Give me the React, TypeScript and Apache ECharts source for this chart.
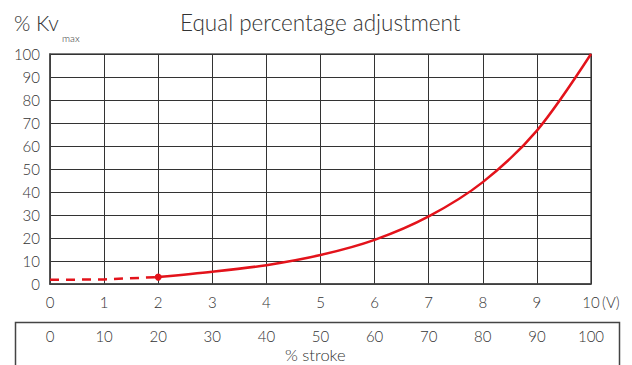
import React, { useEffect, useRef } from "react";
import * as echarts from "echarts";

const voltTicks = [0, 1, 2, 3, 4, 5, 6, 7, 8, 9, 10];
const strokeTicks = [0, 10, 20, 30, 40, 50, 60, 70, 80, 90, 100];
const dashedSeg: [number, number][] = [
  [0, 1.8],
  [1, 2.0],
  [2, 3.0],
];
const solidSeg: [number, number][] = [
  [2, 3.0],
  [3, 5.3],
  [4, 8.2],
  [5, 12.6],
  [6, 19.2],
  [7, 29.4],
  [8, 44.3],
  [9, 66.7],
  [10, 100],
];

const FONT = "Lato";
const TXT = "#333";

export default function App() {
  const ref = useRef<HTMLDivElement>(null);
  useEffect(() => {
    if (!ref.current) return;
    const chart = echarts.init(ref.current, undefined, { renderer: "svg" });
    chart.setOption({
      animation: false,
      backgroundColor: "#fff",
      textStyle: { fontFamily: FONT, color: TXT },
      grid: {
        left: 50,
        right: 41,
        top: 54,
        bottom: 81,
        show: true,
        borderColor: "#555",
        borderWidth: 1.5,
        containLabel: false,
      },
      xAxis: [
        {
          type: "value",
          min: 0,
          max: 10,
          interval: 1,
          position: "bottom",
          axisLine: { show: true, lineStyle: { color: "#444", width: 1.5 } },
          axisTick: { show: false },
          splitLine: { show: true, lineStyle: { color: "#333", width: 1 } },
          axisLabel: {
            color: TXT,
            fontSize: 15,
            fontFamily: FONT,
            fontWeight: 300,
            margin: 10,
            formatter: (v: number) => (voltTicks.includes(v) ? String(v) : ""),
          },
        },
        {
          type: "value",
          min: 0,
          max: 100,
          interval: 10,
          position: "bottom",
          offset: 36,
          axisLine: { show: false },
          axisTick: { show: false },
          splitLine: { show: false },
          axisLabel: {
            color: TXT,
            fontSize: 15,
            fontFamily: FONT,
            fontWeight: 300,
            margin: 8,
            formatter: (v: number) => (strokeTicks.includes(v) ? String(v) : ""),
          },
        },
      ],
      yAxis: {
        type: "value",
        min: 0,
        max: 100,
        interval: 10,
        axisLine: { show: true, lineStyle: { color: "#444", width: 1.5 } },
        axisTick: { show: false },
        splitLine: { show: true, lineStyle: { color: "#333", width: 1 } },
        axisLabel: {
          color: TXT,
          fontSize: 15,
          fontFamily: FONT,
          fontWeight: 300,
          margin: 10,
        },
      },
      series: [
        {
          type: "line",
          xAxisIndex: 0,
          data: dashedSeg,
          showSymbol: false,
          symbol: "none",
          lineStyle: { color: "#e3131b", width: 2.5, type: [9, 7] },
          z: 5,
        },
        {
          type: "line",
          xAxisIndex: 0,
          data: solidSeg,
          smooth: 0.3,
          symbol: "circle",
          symbolSize: (v: number[]) => (v[0] === 2 ? 7 : 0),
          itemStyle: { color: "#e3131b" },
          lineStyle: { color: "#e3131b", width: 2.5 },
          z: 6,
        },
      ],
      graphic: [
        {
          type: "text",
          left: 180,
          top: 11,
          style: {
            text: "Equal percentage adjustment",
            fontSize: 22.5,
            fontFamily: FONT,
            fontWeight: 300,
            fill: TXT,
          },
        },
        {
          type: "text",
          left: 14,
          top: 12,
          style: {
            text: "% Kv",
            fontSize: 21,
            fontFamily: FONT,
            fontWeight: 300,
            fill: TXT,
          },
        },
        {
          type: "text",
          left: 62,
          top: 33,
          style: {
            text: "max",
            fontSize: 10,
            fontFamily: FONT,
            fontWeight: 300,
            fill: TXT,
          },
        },
        {
          type: "text",
          left: 602,
          top: 294,
          style: {
            text: "(V)",
            fontSize: 15,
            fontFamily: FONT,
            fontWeight: 300,
            fill: TXT,
          },
        },
        {
          type: "rect",
          shape: { x: 15.5, y: 322.5, width: 604, height: 60 },
          style: { fill: "none", stroke: "#444", lineWidth: 1.5 },
          z: -1,
        },
        {
          type: "text",
          left: 285,
          top: 346,
          style: {
            text: "% stroke",
            fontSize: 16.5,
            fontFamily: FONT,
            fontWeight: 300,
            fill: TXT,
          },
        },
      ],
    });
    return () => chart.dispose();
  }, []);
  return <div ref={ref} style={{ width: 632, height: 365, position: "absolute", left: 0, top: 0 }} />;
}
